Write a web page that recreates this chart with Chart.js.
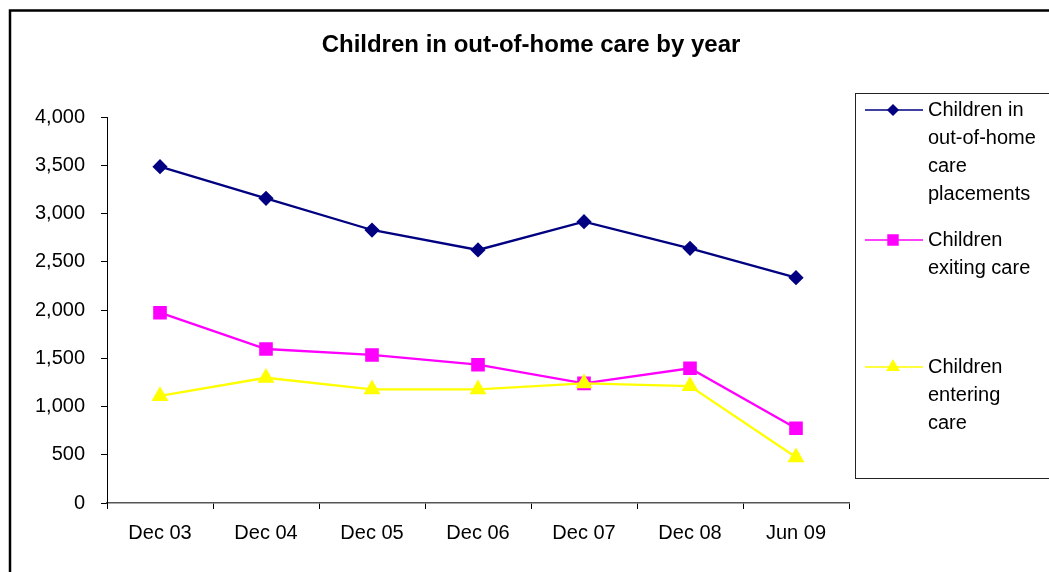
<!DOCTYPE html>
<html>
<head>
<meta charset="utf-8">
<title>Children in out-of-home care by year</title>
<script src="https://cdn.jsdelivr.net/npm/chart.js@4.4.0/dist/chart.umd.min.js"></script>
<style>
  html, body { margin: 0; padding: 0; background: #fff; }
</style>
</head>
<body>
<canvas id="chartCare" width="1049" height="572"></canvas>
<script>
const FONT = "'Liberation Sans', Arial, sans-serif";

const chartTitle = "Children in out-of-home care by year";
const periods = ["Dec 03", "Dec 04", "Dec 05", "Dec 06", "Dec 07", "Dec 08", "Jun 09"];
const inCare = [3485, 3157, 2829, 2622, 2915, 2639, 2335];
const exitingCare = [1972, 1596, 1534, 1433, 1240, 1396, 774];
const enteringCare = [1109, 1298, 1178, 1178, 1240, 1212, 474];
const yTicks = [0, 500, 1000, 1500, 2000, 2500, 3000, 3500, 4000];

// legend text, wrapped like the original
const legendLines = [
  ["Children in", "out-of-home", "care", "placements"],
  ["Children", "exiting care"],
  ["Children", "entering", "care"],
];
const legendRowY = [110, 240, 367];

// frame + title + legend box drawn by hand
const chartDecor = {
  id: "chartDecor",
  afterDraw(chart) {
    const ctx = chart.ctx;
    ctx.save();

    ctx.strokeStyle = "#000";
    ctx.lineWidth = 2.5;
    ctx.strokeRect(10, 10.5, 1200, 1200);

    ctx.fillStyle = "#000";
    ctx.font = "bold 24px " + FONT;
    ctx.textAlign = "center";
    ctx.textBaseline = "middle";
    ctx.fillText(chartTitle, 531, 45);

    ctx.lineWidth = 1;
    ctx.strokeStyle = "#222";
    ctx.strokeRect(855.5, 93.5, 400, 385);

    ctx.font = "20px " + FONT;
    ctx.textAlign = "left";
    chart.data.datasets.forEach((ds, i) => {
      const y = legendRowY[i];
      ctx.strokeStyle = ds.borderColor;
      ctx.lineWidth = 1.5;
      ctx.beginPath();
      ctx.moveTo(865, y);
      ctx.lineTo(923, y);
      ctx.stroke();
      ctx.fillStyle = ds.backgroundColor;
      ctx.strokeStyle = ds.borderColor;
      Chart.helpers.drawPoint(ctx, {
        pointStyle: ds.pointStyle,
        radius: ds.pointRadius - 1,
        borderWidth: 1,
        rotation: 0,
      }, 893, y);
      ctx.fillStyle = "#000";
      legendLines[i].forEach((line, j) => ctx.fillText(line, 928, y + j * 28));
    });

    ctx.restore();
  },
};

new Chart(document.getElementById("chartCare"), {
  type: "line",
  data: {
    labels: periods,
    datasets: [
      {
        label: "Children in out-of-home care placements",
        data: inCare,
        borderColor: "#000080",
        backgroundColor: "#000080",
        pointStyle: "rectRot",
        pointRadius: 6,
        borderWidth: 2.3,
        order: 2,
      },
      {
        label: "Children exiting care",
        data: exitingCare,
        borderColor: "#ff00ff",
        backgroundColor: "#ff00ff",
        pointStyle: "rect",
        pointRadius: 8,
        borderWidth: 2.3,
        order: 1,
      },
      {
        // last series sits on top, as in Excel
        label: "Children entering care",
        data: enteringCare,
        borderColor: "#ffff00",
        backgroundColor: "#ffff00",
        pointStyle: "triangle",
        pointRadius: 7.5,
        borderWidth: 2.3,
        order: 0,
      },
    ],
  },
  options: {
    responsive: false,
    animation: false,
    layout: { padding: { left: 10, right: 200, top: 117, bottom: 0 } },
    elements: {
      line: { tension: 0 },
      point: { borderWidth: 1, hoverRadius: 7 },
    },
    plugins: {
      legend: { display: false },
      title: { display: false },
      tooltip: { enabled: false },
    },
    scales: {
      x: {
        offset: true,
        grid: {
          offset: true,
          drawOnChartArea: false,
          drawTicks: true,
          tickLength: 6,
          color: "#000",
        },
        border: { display: true, color: "#555", width: 1.5 },
        ticks: {
          color: "#000",
          font: { family: FONT, size: 20 },
          padding: 12,
          maxRotation: 0,
          autoSkip: false,
        },
        afterFit(scale) {
          scale.height = 69;
        },
      },
      y: {
        min: yTicks[0],
        max: yTicks[yTicks.length - 1],
        afterBuildTicks(scale) {
          scale.ticks = yTicks.map((v) => ({ value: v }));
        },
        grid: {
          drawOnChartArea: false,
          drawTicks: true,
          tickLength: 6,
          color: "#000",
        },
        border: { display: true, color: "#000", width: 1 },
        ticks: {
          color: "#000",
          font: { family: FONT, size: 20 },
          padding: 16,
          callback: (v) => Number(v).toLocaleString("en-US"),
        },
        afterFit(scale) {
          scale.width = 97;
        },
      },
    },
  },
  plugins: [chartDecor],
});
</script>
</body>
</html>
